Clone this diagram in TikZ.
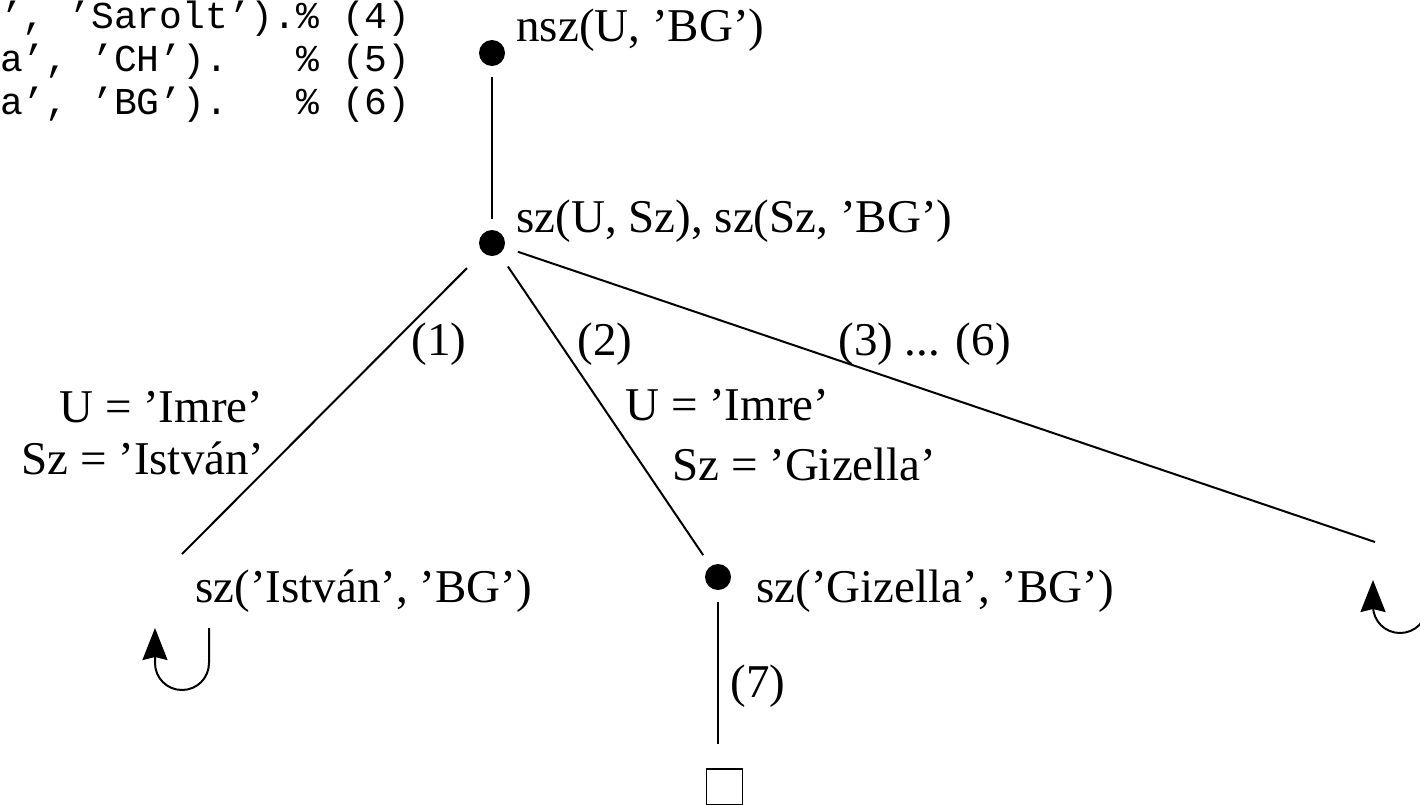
\documentclass[tikz,border=0pt]{standalone}
\usepackage{fontspec}
\setmainfont{Liberation Serif}
\newfontfamily\listingfont{Liberation Mono}
\usetikzlibrary{arrows.meta}

\begin{document}
\begin{tikzpicture}[x=0.5pt, y=-0.5pt,
  every node/.style={inner sep=0pt},
  term/.style={font=\fontsize{23.5}{28}\selectfont, anchor=base west},
  listing/.style={font=\listingfont\fontsize{19}{21.5}\selectfont, anchor=base east},
  dot/.style={circle, fill=black, minimum size=13pt},
  branch/.style={line width=1pt},
  emptybox/.style={draw, line width=0.75pt, minimum size=18pt},
  loopback/.style={line width=1pt, -{Stealth[length=16pt, width=12.5pt, inset=1.5pt]}},
]
\useasboundingbox (0,0) rectangle (1420,804);

% program listing, cut at the left edge
\node[listing] (cl4) at (411,28)  {a’, ’Sarolt’).\%~(4)};
\node[listing] (cl5) at (411,71)  {la’, ’CH’).~~~\%~(5)};
\node[listing] (cl6) at (411,114) {la’, ’BG’).~~~\%~(6)};

% goal nodes of the resolution tree
\node[dot] (query) at (492,53) {};
\node[dot] (goals) at (492,243) {};
\node[dot] (gizella) at (718,577) {};
\node[emptybox] (success) at (724.5,787) {};
\coordinate (istvan) at (182,554);
\coordinate (rest) at (1375,542);

\node[term] (qlab) at (516,41)  {nsz(U, ’BG’)};
\node[term] (glab) at (516,232) {sz(U, Sz), sz(Sz, ’BG’)};
\node[term] (ilab) at (195,602) {sz(’István’, ’BG’)};
\node[term] (zlab) at (756,602) {sz(’Gizella’, ’BG’)};

% branches
\draw[branch, shorten <=5.5pt, shorten >=5.5pt] (query) -- (goals);
\draw[branch, shorten <=11pt] (goals) -- (istvan);
\draw[branch, shorten <=7.5pt, shorten >=6.5pt] (goals) -- (gizella);
\draw[branch, shorten <=7pt] (goals) -- (rest);
\draw[branch, shorten <=6pt, shorten >=12pt] (gizella) -- (gizella |- success.north);

% clause numbers and bindings
\node[term] (c1) at (411,355) {(1)};
\node[term] (c2) at (577,355) {(2)};
\node[term] (c36) at (838,355) {(3) ... (6)};
\node[term] (c7) at (730,697) {(7)};
\node[term] (b1u) at (59,422)  {U = ’Imre’};
\node[term] (b1s) at (21,474)  {Sz = ’István’};
\node[term] (b2u) at (625,420) {U = ’Imre’};
\node[term] (b2s) at (672,480) {Sz = ’Gizella’};

% backtracking loops
\draw[loopback] (209,628) -- (209,663) .. controls (209,678) and (197,690) .. (182,690)
  .. controls (167,690) and (155,678) .. (155,663) -- (155,628);
\draw[loopback] (1427,571) -- (1427,606) .. controls (1427,621) and (1415,633) .. (1400,633)
  .. controls (1385,633) and (1373,621) .. (1373,606) -- (1373,580);

\end{tikzpicture}
\end{document}
